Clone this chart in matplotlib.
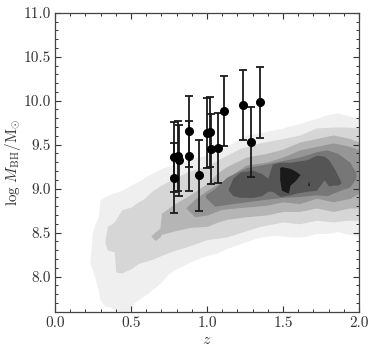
import numpy as np
import matplotlib
matplotlib.use('Agg')
import matplotlib.pyplot as plt
from matplotlib.ticker import MultipleLocator

plt.rcParams['font.family'] = 'serif'
plt.rcParams['font.serif'] = ['cmr10', 'DejaVu Serif']
plt.rcParams['mathtext.fontset'] = 'cm'
plt.rcParams['axes.unicode_minus'] = False
plt.rcParams['axes.formatter.use_mathtext'] = True

# density bands of the simulated sample (z, lower, upper)
band_colors = ['#efefef', '#d6d6d6', '#b5b5b5', '#969696', '#777777', '#555555', '#1a1a1a']

l1_z = [0.23, 0.245, 0.263, 0.285, 0.296, 0.33, 0.36, 0.39, 0.44, 0.48, 0.52, 0.57, 0.61, 0.66, 0.70, 0.74,
        0.80, 0.86, 0.92, 1.00, 1.07, 1.13, 1.20, 1.26, 1.33, 1.39, 1.45, 1.50, 1.56, 1.61, 1.66, 1.72,
        1.79, 1.86, 1.93, 2.00]
l1_hi = [8.15, 8.49, 8.60, 8.68, 8.87, 8.91, 8.93, 8.95, 8.98, 9.02, 9.06, 9.10, 9.15, 9.19, 9.23, 9.25,
         9.29, 9.32, 9.35, 9.38, 9.43, 9.48, 9.55, 9.61, 9.63, 9.65, 9.67, 9.69, 9.72, 9.74, 9.77, 9.80,
         9.84, 9.86, 9.83, 9.80]
l1_lo = [8.15, 8.08, 7.98, 7.85, 7.74, 7.66, 7.66, 7.62, 7.60, 7.60, 7.70, 7.76, 7.81, 7.88, 7.94, 8.02,
         8.09, 8.14, 8.19, 8.24, 8.27, 8.32, 8.36, 8.40, 8.44, 8.46, 8.47, 8.46, 8.45, 8.45, 8.46, 8.49,
         8.49, 8.51, 8.48, 8.46]

l2_z = [0.33, 0.345, 0.39, 0.40, 0.44, 0.50, 0.55, 0.59, 0.63, 0.70, 0.79, 0.87, 1.00, 1.13, 1.22, 1.35,
        1.50, 1.61, 1.72, 1.83, 1.92, 2.00]
l2_hi = [8.42, 8.57, 8.62, 8.65, 8.76, 8.79, 8.85, 8.89, 8.96, 9.04, 9.12, 9.19, 9.26, 9.38, 9.46, 9.52,
         9.57, 9.61, 9.69, 9.70, 9.70, 9.69]
l2_lo = [8.38, 8.30, 8.28, 8.05, 8.04, 8.09, 8.15, 8.17, 8.19, 8.24, 8.30, 8.34, 8.42, 8.45, 8.50, 8.57,
         8.62, 8.60, 8.64, 8.62, 8.64, 8.64]

l3_z = [0.63, 0.66, 0.69, 0.70, 0.79, 0.89, 1.00, 1.07, 1.13, 1.26, 1.39, 1.50, 1.61, 1.72, 1.83, 1.94, 2.00]
l3_hi = [8.46, 8.51, 8.55, 8.72, 8.83, 8.93, 9.06, 9.18, 9.25, 9.36, 9.40, 9.45, 9.53, 9.57, 9.61, 9.57, 9.53]
l3_lo = [8.46, 8.41, 8.45, 8.48, 8.52, 8.56, 8.57, 8.62, 8.65, 8.68, 8.70, 8.74, 8.74, 8.78, 8.74, 8.78, 8.78]

l4_z = [0.86, 0.92, 1.00, 1.09, 1.13, 1.26, 1.39, 1.50, 1.61, 1.72, 1.83, 1.94, 2.00]
l4_hi = [8.78, 8.88, 8.98, 9.07, 9.12, 9.27, 9.30, 9.36, 9.44, 9.48, 9.52, 9.48, 9.44]
l4_lo = [8.78, 8.68, 8.70, 8.76, 8.77, 8.79, 8.81, 8.85, 8.83, 8.89, 8.85, 8.89, 8.95]

l5_z = [0.99, 1.05, 1.13, 1.26, 1.39, 1.50, 1.61, 1.72, 1.79, 1.86, 1.94, 1.98]
l5_hi = [8.93, 9.00, 9.13, 9.24, 9.28, 9.32, 9.36, 9.42, 9.44, 9.40, 9.30, 9.18]
l5_lo = [8.90, 8.80, 8.82, 8.85, 8.88, 8.90, 8.91, 8.93, 8.92, 8.97, 9.02, 9.12]

l6_z = [1.14, 1.17, 1.22, 1.30, 1.36, 1.40, 1.43, 1.48, 1.55, 1.59, 1.66, 1.72, 1.77, 1.80, 1.83, 1.86, 1.88]
l6_hi = [9.00, 9.12, 9.19, 9.21, 9.17, 9.12, 9.28, 9.30, 9.30, 9.31, 9.33, 9.38, 9.37, 9.33, 9.25, 9.15, 9.08]
l6_lo = [8.98, 8.92, 8.90, 8.90, 8.92, 8.97, 8.97, 8.91, 8.93, 8.95, 8.97, 8.98, 9.10, 9.03, 9.04, 9.04, 9.06]

l7_z = [1.478, 1.49, 1.535, 1.546, 1.58, 1.612]
l7_hi = [9.24, 9.25, 9.235, 9.23, 9.20, 9.16]
l7_lo = [9.10, 8.98, 8.95, 9.04, 9.09, 9.16]

l7b_z = [1.662, 1.668, 1.674]
l7b_hi = [9.04, 9.09, 9.04]
l7b_lo = [9.04, 9.03, 9.04]

# observed quasars
obs_z = [0.783, 0.783, 0.811, 0.818, 0.884, 0.884, 0.947, 0.998, 1.020, 1.024, 1.072, 1.114, 1.237, 1.289, 1.351]
obs_m = [9.12, 9.36, 9.37, 9.32, 9.65, 9.37, 9.15, 9.63, 9.64, 9.45, 9.46, 9.88, 9.95, 9.53, 9.98]
obs_err = [0.40] * 15

fig = plt.figure(figsize=(3.74, 3.54), dpi=100)
ax = fig.add_axes([0.147, 0.1195, 0.813, 0.8445])

bands = [(l1_z, l1_lo, l1_hi, 0), (l2_z, l2_lo, l2_hi, 1), (l3_z, l3_lo, l3_hi, 2),
         (l4_z, l4_lo, l4_hi, 3), (l5_z, l5_lo, l5_hi, 4), (l6_z, l6_lo, l6_hi, 5),
         (l7_z, l7_lo, l7_hi, 6), (l7b_z, l7b_lo, l7b_hi, 6)]
for bz, blo, bhi, k in bands:
    ax.fill_between(bz, blo, bhi, color=band_colors[k], lw=0, zorder=1 + k * 0.1)

ax.errorbar(obs_z, obs_m, yerr=obs_err, fmt='o', color='k', ecolor='#1a1a1a', ms=5.5,
            capsize=3, elinewidth=1.3, capthick=1.3, zorder=5)

ax.set_xlim(0.0, 2.0)
ax.set_ylim(7.6, 11.0)
ax.xaxis.set_major_locator(MultipleLocator(0.5))
ax.xaxis.set_minor_locator(MultipleLocator(0.1))
ax.yaxis.set_major_locator(MultipleLocator(0.5))
ax.yaxis.set_minor_locator(MultipleLocator(0.1))
ax.xaxis.set_major_formatter(plt.FormatStrFormatter('%.1f'))
ax.yaxis.set_major_formatter(plt.FormatStrFormatter('%.1f'))
ax.tick_params(which='both', direction='in', top=True, right=True, color='#333333',
               labelsize=11, labelcolor='#333333')
ax.tick_params(which='major', length=4.5, width=0.8, pad=3)
ax.tick_params(which='minor', length=2.5, width=0.7)
for s in ax.spines.values():
    s.set_color('#444444')
    s.set_linewidth(0.9)

ax.set_xlabel(r'$z$', fontsize=11.5, color='#333333', labelpad=3)
ax.set_ylabel(r'$\log\,M_{\rm BH}/{\rm M}_{\odot}$', fontsize=11, color='#333333')
ax.yaxis.set_label_coords(-0.105, 0.5)

fig.savefig('out.png', dpi=100)
